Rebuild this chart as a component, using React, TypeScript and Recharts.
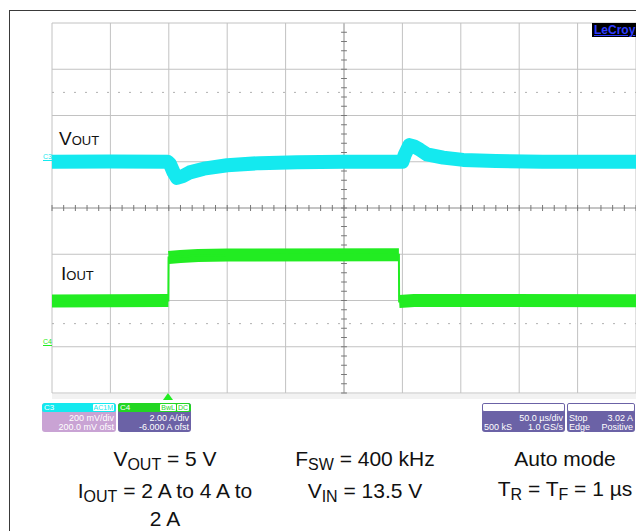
import { ComposedChart, Line, XAxis, YAxis, ReferenceLine } from 'recharts';

// time in µs (50 µs/div), Vout deviation in mV (200 mV/div, 200 mV offset)
const voutTime = [0, 50, 99, 101, 104, 107, 112, 118, 130, 150, 178, 210, 250, 300, 302, 306, 310, 315, 321, 335, 352, 380, 420, 500];
const voutMv = [0, 1, 0, -10, -45, -70, -62, -46, -30, -15, -6, -2, 0, 0, 30, 72, 66, 52, 32, 18, 8, 3, 0, 0];

// Iout in A (2 A/div, -6 A offset); null splits the trace at the load steps
const ioutTime = [0, 99.6, 99.7, 99.8, 110, 125, 150, 297, 297.1, 297.2, 310, 500];
const ioutAmp = [1.98, 2.0, null, 3.86, 3.9, 3.95, 3.97, 3.98, null, 1.96, 2.0, 1.99];

const gridTimes = [0, 50, 100, 150, 200, 250, 300, 350, 400, 450, 500];
const gridAmps = [-2, 0, 2, 4, 6, 8, 10, 12, 14];
const dottedAmps = [1, 11];

const FONT = '"Liberation Sans", Arial, sans-serif';
const CYAN = '#14E9EF';
const GREEN = '#22EC22';
const PURPLE = '#6B62A6';

const tickTimes: number[] = [];
for (let t = 0; t <= 500; t += 10) tickTimes.push(t);
const tickAmps: number[] = [];
for (let a = -2; a <= 14; a += 0.4) tickAmps.push(Math.round(a * 10) / 10);

function InfoBox({ left, width, head, headColor, badges, lines, bg }: any) {
  return (
    <div style={{ position: 'absolute', left, top: 403, width, height: 29, background: bg, borderRadius: 3, overflow: 'hidden', color: '#fff', fontSize: 9, lineHeight: '9px' }}>
      <div style={{ height: 9, background: headColor, display: 'flex', alignItems: 'center', padding: '0 2px', border: headColor === '#fff' ? `1px solid ${PURPLE}` : 'none', boxSizing: 'border-box', borderRadius: 2 }}>
        <span style={{ flex: 1, fontSize: 8 }}>{head}</span>
        {badges.map((b: string) => (
          <span key={b} style={{ background: '#fff', color: headColor, fontSize: 7, lineHeight: '7px', padding: '0 1px', marginLeft: 1, borderRadius: 1 }}>{b}</span>
        ))}
      </div>
      {lines.map((l: string[], i: number) => (
        <div key={i} style={{ display: 'flex', padding: '0 2px', marginTop: i === 0 ? 2 : 0 }}>
          <span style={{ flex: 1 }}>{l[0]}</span>
          <span>{l[1]}</span>
        </div>
      ))}
    </div>
  );
}

export default function App() {
  const voutData = voutTime.map((t, i) => ({ t, v: voutMv[i] }));
  const ioutData = ioutTime.map((t, i) => ({ t, a: ioutAmp[i] }));
  const ioutEdge = ioutTime.map((t, i) => ({ t, a: ioutAmp[i] })).filter((d) => d.a !== null);
  const sub = (s: string, size = 16, top = 4) => <span style={{ fontSize: size, position: 'relative', top }}>{s}</span>;

  return (
    <div style={{ position: 'absolute', left: 0, top: 0, width: 636, height: 531, background: '#fff', overflow: 'hidden', fontFamily: FONT, color: '#111' }}>
      <div style={{ position: 'absolute', left: 9, top: 10, width: 700, height: 600, borderLeft: '1px solid #3a3a3a', borderTop: '1px solid #3a3a3a' }} />
      <div style={{ position: 'absolute', left: 52, top: 394, width: 590, height: 5, background: '#f2f2f2' }} />
      <div style={{ position: 'absolute', left: 51, top: 22 }}>
        <ComposedChart width={586} height={372} margin={{ top: 1, right: 1, bottom: 1, left: 1 }}>
          <XAxis dataKey="t" type="number" domain={[0, 500]} hide allowDataOverflow />
          <YAxis yAxisId="v" type="number" domain={[-1000, 600]} hide allowDataOverflow />
          <YAxis yAxisId="i" type="number" domain={[-2, 14]} hide allowDataOverflow />
          {gridTimes.map((t) => (
            <ReferenceLine key={'gx' + t} x={t} yAxisId="i" stroke={t === 250 ? '#8a8a8a' : '#c2c2c2'} strokeWidth={1} />
          ))}
          {gridAmps.map((a) => (
            <ReferenceLine key={'gy' + a} y={a} yAxisId="i" stroke={a === 6 ? '#8a8a8a' : '#c2c2c2'} strokeWidth={1} />
          ))}
          {dottedAmps.map((a) => (
            <ReferenceLine key={'d' + a} y={a} yAxisId="i" stroke="#b0b0b0" strokeDasharray="2 9" />
          ))}
          {tickTimes.map((t) => (
            <ReferenceLine key={'tx' + t} yAxisId="i" segment={[{ x: t, y: 5.87 }, { x: t, y: 6.13 }]} stroke="#777" />
          ))}
          {tickAmps.map((a) => (
            <ReferenceLine key={'ty' + a} yAxisId="i" segment={[{ x: 247.5, y: a }, { x: 252.5, y: a }]} stroke="#777" />
          ))}
          <Line data={voutData} yAxisId="v" dataKey="v" type="linear" stroke={CYAN} strokeWidth={14} strokeLinejoin="round" isAnimationActive={false} dot={false} activeDot={false} />
          <Line data={ioutData} yAxisId="i" dataKey="a" type="linear" stroke={GREEN} strokeWidth={13} strokeLinecap="butt" strokeLinejoin="round" connectNulls={false} isAnimationActive={false} dot={false} activeDot={false} />
          <Line data={ioutEdge} yAxisId="i" dataKey="a" type="linear" stroke={GREEN} strokeWidth={2} isAnimationActive={false} dot={false} activeDot={false} />
        </ComposedChart>
      </div>

      {/* LeCroy badge */}
      <div style={{ position: 'absolute', left: 592, top: 23, width: 46, height: 14, background: '#000', color: '#2f3cff', fontWeight: 'bold', fontSize: 12, lineHeight: '14px', textDecoration: 'underline', paddingLeft: 2 }}>LeCroy</div>

      {/* trace labels */}
      <div style={{ position: 'absolute', left: 59, top: 128, fontSize: 19, lineHeight: '22px', whiteSpace: 'nowrap' }}>V<span style={{ fontSize: 13 }}>OUT</span></div>
      <div style={{ position: 'absolute', left: 61, top: 263, fontSize: 19, lineHeight: '22px', whiteSpace: 'nowrap' }}>I<span style={{ fontSize: 13 }}>OUT</span></div>

      {/* channel ground markers */}
      <div style={{ position: 'absolute', left: 43, top: 153, fontSize: 7, lineHeight: '7px', color: CYAN, borderBottom: `1px solid ${CYAN}` }}>C3</div>
      <div style={{ position: 'absolute', left: 43, top: 338, fontSize: 7, lineHeight: '7px', color: GREEN, borderBottom: `1px solid ${GREEN}` }}>C4</div>

      {/* trigger marker */}
      <svg style={{ position: 'absolute', left: 163, top: 393 }} width={10} height={8}>
        <polygon points="5,0 10,7 0,7" fill={GREEN} />
      </svg>

      <InfoBox left={42} width={74} head="C3" headColor={CYAN} badges={['AC1M']} bg="#C9A3D4" lines={[['', '200 mV/div'], ['', '200.0 mV ofst']]} />
      <InfoBox left={118} width={73} head="C4" headColor="#22D622" badges={['BwL', 'DC']} bg={PURPLE} lines={[['', '2.00 A/div'], ['', '-6.000 A ofst']]} />
      <InfoBox left={482} width={83} head="" headColor="#fff" badges={[]} bg={PURPLE} lines={[['', '50.0 µs/div'], ['500 kS', '1.0 GS/s']]} />
      <InfoBox left={567} width={68} head="" headColor="#fff" badges={[]} bg={PURPLE} lines={[['Stop', '3.02 A'], ['Edge', 'Positive']]} />

      {/* conditions */}
      <div style={{ position: 'absolute', left: 45, top: 444, width: 240, textAlign: 'center', fontSize: 21, lineHeight: '30px' }}>
        <div>V{sub('OUT')} = 5 V</div>
        <div>I{sub('OUT')} = 2 A to 4 A to</div>
        <div style={{ lineHeight: '22px' }}>2 A</div>
      </div>
      <div style={{ position: 'absolute', left: 245, top: 444, width: 240, textAlign: 'center', fontSize: 21, lineHeight: '30px' }}>
        <div>F{sub('SW')} = 400 kHz</div>
        <div>V{sub('IN')} = 13.5 V</div>
      </div>
      <div style={{ position: 'absolute', left: 445, top: 444, width: 240, textAlign: 'center', fontSize: 21, lineHeight: '30px' }}>
        <div>Auto mode</div>
        <div>T{sub('R')} = T{sub('F')} = 1 µs</div>
      </div>
    </div>
  );
}
